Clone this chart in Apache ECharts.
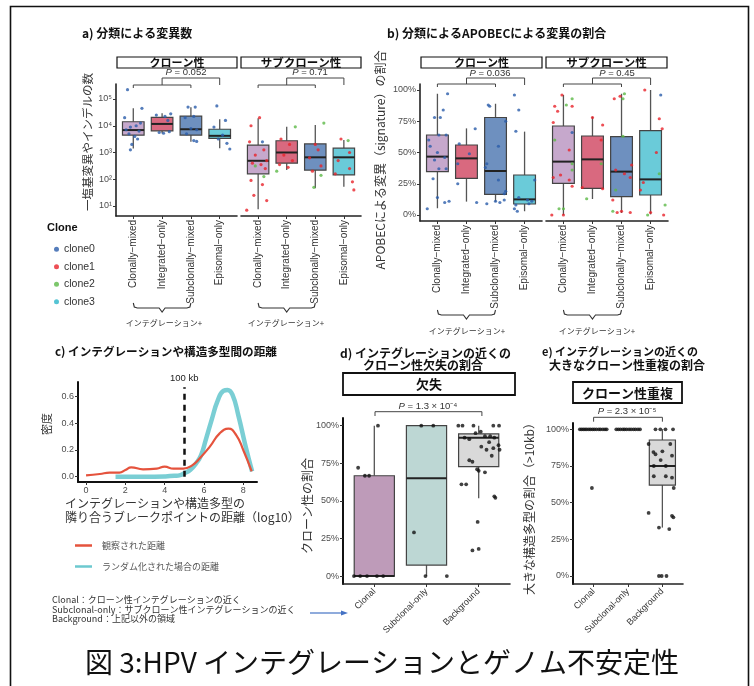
<!DOCTYPE html>
<html>
<head>
<meta charset="utf-8">
<script src="https://cdn.jsdelivr.net/npm/echarts@6/dist/echarts.min.js"></script>
<style>
html, body { margin: 0; padding: 0; background: #fff; }
#main { width: 754px; height: 686px; }
</style>
</head>
<body>
<div id="main"></div>
<script>
// ---- data ----
const catsAB = ['Clonally\u2212mixed', 'Integrated\u2212only', 'Subclonally\u2212mixed', 'Episomal\u2212only'];
const catsDE = ['Clonal', 'Subclonal-only', 'Background'];
const clones = ['clone0', 'clone1', 'clone2', 'clone3'];
const cloneColors = ['#2A5CAA', '#E8232A', '#5CB947', '#2BB5C9'];
const boxColorsAB = ['#C6A8CC', '#D9697F', '#6E90BF', '#6ACBD9'];
const boxColorsDE = ['#BE9BB9', '#BDD7D4', '#D9D9D9'];

// box stats: [min, Q1, median, Q3, max]
const aClonalBox = [[1400, 4470, 6900, 14100, 44700], [5250, 6460, 11700, 20400, 29500], [2500, 4470, 7400, 22900, 49000], [1450, 3400, 4200, 7400, 17400]];
const aSubBox = [[7.6, 160, 490, 1900, 19000], [220, 400, 1000, 2750, 9100], [46, 220, 660, 2100, 10700], [52, 145, 660, 1450, 2950]];
const bClonalBox = [[0.054, 0.347, 0.467, 0.64, 0.97], [0.107, 0.293, 0.453, 0.56, 0.693], [0.107, 0.165, 0.352, 0.78, 0.89], [0.03, 0.088, 0.125, 0.32, 0.667]];
const bSubBox = [[0, 0.253, 0.427, 0.712, 0.96], [0.128, 0.213, 0.445, 0.632, 0.786], [0.016, 0.147, 0.347, 0.627, 0.97], [0.005, 0.16, 0.285, 0.675, 1.0]];
const dBox = [[0, 0, 0, 0.667, 1.0], [0, 0.073, 0.65, 1.0, 1.0], [0.517, 0.727, 0.92, 0.945, 1.0]];
const eBox = [null, null, [0.33, 0.62, 0.75, 0.927, 1.0]];

// jitter points: [category, offset, value, clone]
const aClonalPts = [
  [0, -0.2, 224000, 0], [0, 0.3, 44700, 0], [0, -0.3, 20000, 0], [0, 0.1, 10000, 0], [0, -0.1, 8900, 0], [0, 0.2, 6300, 0], [0, -0.15, 5000, 0],
  [0, 0.05, 4000, 0], [0, 0.15, 3200, 0], [0, -0.05, 2000, 0], [0, -0.1, 1260, 0], [0, 0.25, 12600, 0], [0, -0.25, 7100, 0],
  [1, 0.3, 28000, 0], [1, -0.2, 25000, 0], [1, 0.1, 22400, 0], [1, 0.2, 15800, 0], [1, -0.1, 5600, 0], [1, 0.05, 5250, 0], [1, 0.25, 6000, 0],
  [2, -0.1, 50000, 0], [2, 0.15, 50000, 0], [2, -0.2, 20000, 0], [2, 0.1, 22400, 0], [2, 0, 7900, 0], [2, 0.2, 7100, 0], [2, -0.15, 5000, 0], [2, 0.1, 2800, 0], [2, 0.2, 2600, 0],
  [3, -0.1, 55000, 0], [3, 0.2, 15800, 0], [3, -0.2, 8900, 0], [3, 0.1, 4500, 0], [3, -0.05, 3200, 0], [3, 0.25, 2200, 0], [3, 0.35, 1350, 0]
];
const aSubPts = [
  [0, 0.05, 20000, 1], [0, -0.25, 10000, 1], [0, -0.3, 2500, 1], [0, 0.2, 1260, 1], [0, -0.1, 800, 1], [0, 0.3, 500, 1], [0, -0.2, 400, 1], [0, 0.1, 355, 1],
  [0, 0.25, 250, 1], [0, -0.25, 90, 1], [0, 0.15, 63, 1], [0, -0.15, 25, 1], [0, 0.3, 16, 1], [0, -0.4, 7, 1], [0, -0.1, 316, 2], [0, 0.2, 126, 2], [0, 0.15, 2500, 0],
  [1, 0.3, 9100, 2], [1, -0.2, 3200, 1], [1, 0.1, 2000, 1], [1, -0.1, 800, 1], [1, 0.2, 500, 1], [1, -0.25, 355, 1], [1, 0.05, 280, 1], [1, -0.35, 200, 2],
  [2, 0.3, 12600, 2], [2, 0, 2000, 1], [2, 0.1, 1260, 1], [2, -0.2, 630, 1], [2, 0.2, 316, 1], [2, -0.1, 200, 1], [2, -0.05, 50, 2], [2, 0.2, 140, 2],
  [3, -0.1, 3200, 1], [3, 0.15, 2800, 2], [3, 0.2, 1000, 1], [3, -0.2, 500, 1], [3, 0.2, 250, 1], [3, -0.3, 160, 1], [3, 0.3, 80, 1], [3, 0.35, 40, 1]
];
const bClonalPts = [
  [0, 0.35, 0.97, 0], [0, -0.1, 0.78, 0], [0, 0.1, 0.78, 0], [0, 0.2, 0.84, 0], [0, -0.3, 0.6, 0], [0, 0.05, 0.64, 0], [0, 0.3, 0.64, 0], [0, -0.25, 0.55, 0],
  [0, 0, 0.5, 0], [0, 0.25, 0.46, 0], [0, -0.1, 0.44, 0], [0, 0.05, 0.37, 0], [0, 0.3, 0.37, 0], [0, -0.15, 0.29, 0], [0, 0, 0.14, 0], [0, 0.25, 0.1, 0], [0, 0.4, 0.11, 0], [0, -0.35, 0.05, 0],
  [1, 0.3, 0.69, 0], [1, -0.25, 0.57, 0], [1, 0.1, 0.49, 0], [1, -0.3, 0.41, 0], [1, -0.3, 0.25, 0], [1, 0.35, 0.1, 0],
  [2, -0.25, 0.88, 0], [2, -0.2, 0.87, 0], [2, 0.35, 0.75, 0], [2, 0.1, 0.55, 0], [2, -0.3, 0.41, 0], [2, -0.35, 0.38, 0], [2, 0.1, 0.28, 0], [2, 0.35, 0.19, 0],
  [2, 0.3, 0.17, 0], [2, 0.15, 0.1, 0], [2, -0.3, 0.09, 0], [2, 0.3, 0.12, 0], [2, 0, 0.11, 0],
  [3, -0.35, 0.96, 0], [3, -0.2, 0.84, 0], [3, -0.3, 0.67, 0], [3, 0.35, 0.28, 0], [3, -0.2, 0.14, 0], [3, 0.1, 0.12, 0], [3, 0.25, 0.11, 0], [3, -0.3, 0.08, 0],
  [3, -0.35, 0.05, 0], [3, -0.25, 0.03, 0], [3, 0.15, 0.09, 0]
];
const bSubPts = [
  [0, -0.05, 0.96, 1], [0, -0.3, 0.87, 1], [0, 0.3, 0.87, 1], [0, -0.2, 0.83, 1], [0, -0.35, 0.74, 1], [0, 0.2, 0.52, 1], [0, -0.35, 0.3, 1], [0, -0.1, 0.32, 1],
  [0, 0.2, 0.28, 1], [0, 0.3, 0.23, 1], [0, -0.4, 0, 1], [0, 0, 0, 1], [0, 0.3, 0.93, 2], [0, 0.1, 0.88, 2], [0, -0.3, 0.6, 2], [0, 0.3, 0.41, 2],
  [0, 0.3, 0.36, 2], [0, -0.15, 0.05, 2], [0, 0, 0.05, 2], [0, 0.3, 0.66, 0],
  [1, 0, 0.78, 1], [1, 0.35, 0.72, 1], [1, 0.3, 0.6, 1], [1, -0.35, 0.22, 1], [1, 0.35, 0.21, 1], [1, 0.3, 0.41, 2], [1, -0.2, 0.13, 2],
  [2, -0.25, 0.93, 1], [2, -0.05, 0.95, 1], [2, 0.35, 0.4, 1], [2, -0.2, 0.36, 1], [2, 0.1, 0.33, 1], [2, 0.3, 0.3, 1], [2, -0.3, 0.12, 1], [2, 0, 0.03, 1],
  [2, 0.3, 0.02, 1], [2, -0.15, 0.02, 1], [2, 0.1, 0.97, 2], [2, 0.05, 0.93, 2], [2, 0.05, 0.63, 2], [2, -0.2, 0.2, 2], [2, -0.3, 0.03, 2],
  [3, -0.2, 1.0, 1], [3, 0.3, 0.77, 1], [3, 0.4, 0.69, 1], [3, 0.2, 0.5, 1], [3, -0.25, 0.26, 1], [3, -0.35, 0.2, 1], [3, 0, 0.02, 1], [3, 0.45, 0, 1],
  [3, 0.35, 0.96, 0], [3, 0.3, 0.33, 2], [3, -0.1, 0, 2], [3, 0.5, 0.08, 2]
];

// d / e jitter points: [category, offset, value]
const dPts = [
  [0, 0.07, 1.0], [0, -0.31, 0.72], [0, -0.18, 0.667], [0, -0.1, 0.667], [0, -0.39, 0], [0, -0.27, 0], [0, -0.14, 0], [0, 0.17, 0], [0, 0.05, 0],
  [1, -0.1, 1.0], [1, 0.13, 1.0], [1, -0.24, 0.29], [1, -0.02, 0], [1, 0.39, 0],
  [2, -0.39, 1], [2, -0.31, 1], [2, -0.1, 1], [2, 0.28, 1], [2, 0.39, 1], [2, -0.06, 0.95], [2, 0.04, 0.96], [2, 0.12, 0.93], [2, 0.22, 0.93], [2, 0.3, 0.92],
  [2, -0.27, 0.92], [2, -0.18, 0.91], [2, 0.2, 0.89], [2, 0.38, 0.87], [2, 0.28, 0.85], [2, 0.15, 0.84], [2, 0.05, 0.86], [2, 0.4, 0.84], [2, -0.18, 0.77],
  [2, -0.12, 0.76], [2, 0.25, 0.8], [2, 0.0, 0.7], [2, -0.03, 0.71], [2, 0.12, 0.69], [2, -0.33, 0.61], [2, -0.24, 0.61], [2, 0.3, 0.53], [2, 0.32, 0.52],
  [2, -0.02, 0.36], [2, -0.12, 0.17], [2, 0.0, 0.18]
];
const ePts = [
  [0, -0.4, 1], [0, -0.35, 1], [0, -0.3, 1], [0, -0.25, 1], [0, -0.2, 1], [0, -0.14, 1], [0, -0.09, 1], [0, -0.03, 1], [0, 0.02, 1], [0, 0.08, 1],
  [0, 0.15, 1], [0, 0.2, 1], [0, 0.27, 1], [0, 0.33, 1], [0, 0.38, 1], [0, -0.05, 0.6],
  [1, -0.34, 1], [1, -0.28, 1], [1, -0.22, 1], [1, -0.15, 1], [1, -0.1, 1], [1, -0.04, 1], [1, 0.03, 1], [1, 0.09, 1], [1, 0.16, 1], [1, 0.22, 1], [1, 0.29, 1], [1, 0.35, 1],
  [2, -0.2, 1], [2, -0.06, 1], [2, 0.09, 1], [2, 0.31, 1], [2, -0.4, 0.9], [2, 0.23, 0.9], [2, -0.26, 0.845], [2, 0, 0.85], [2, -0.2, 0.83], [2, 0.28, 0.82],
  [2, -0.05, 0.79], [2, -0.25, 0.75], [2, 0.1, 0.75], [2, -0.25, 0.68], [2, 0.1, 0.68], [2, 0.28, 0.67], [2, 0.33, 0.6], [2, -0.4, 0.43], [2, 0.28, 0.41],
  [2, 0.32, 0.4], [2, -0.1, 0.33], [2, 0.2, 0.32], [2, -0.1, 0], [2, -0.02, 0], [2, 0.12, 0]
];

// c) density curves (x = log10 distance)
const obsX = [0, 0.7, 1.2, 1.7, 2.0, 2.3, 2.9, 3.6, 4.0, 4.45, 4.95, 5.4, 5.8, 6.3, 6.8, 7.25, 7.65, 8.0, 8.43];
const obsY = [0.01, 0.02, 0.03, 0.03, 0.05, 0.07, 0.055, 0.06, 0.075, 0.06, 0.06, 0.085, 0.14, 0.225, 0.325, 0.36, 0.31, 0.2, 0.04];
const rndX = [1.5, 3.0, 4.0, 4.5, 4.8, 5.0, 5.3, 5.6, 5.85, 6.1, 6.4, 6.7, 7.0, 7.2, 7.45, 7.75, 8.1, 8.45];
const rndY = [0.0, 0.0, 0.002, 0.006, 0.012, 0.025, 0.05, 0.1, 0.16, 0.28, 0.43, 0.57, 0.645, 0.65, 0.615, 0.46, 0.24, 0.04];

const aTicks = [10, 100, 1000, 10000, 100000];
const pctTicks = [0, 0.25, 0.5, 0.75, 1];
const cXTicks = [0, 2, 4, 6, 8];
const cYTicks = [0, 0.2, 0.4, 0.6];

// ---- helpers ----
const sup = { 1: '\u00b9', 2: '\u00b2', 3: '\u00b3', 4: '\u2074', 5: '\u2075' };
const LAT = '"Liberation Sans", "Noto Sans CJK JP", sans-serif';
const JP = '"Noto Sans CJK JP", sans-serif';

function catAxis(grid, cats, rotate, fontSize, margin) {
  const idx = cats.map((c, i) => i);
  return {
    gridIndex: grid, type: 'value', min: -0.6, max: cats.length - 0.4,
    axisLine: { show: true, onZero: false, lineStyle: { color: '#222', width: 1.6 } },
    axisTick: { show: true, customValues: idx, length: 3, lineStyle: { color: '#333' } },
    axisLabel: { customValues: idx, formatter: v => cats[Math.round(v)], rotate: rotate, fontSize: fontSize, color: '#333', margin: margin, fontFamily: LAT },
    splitLine: { show: false }
  };
}
function valAxis(grid, min, max, ticks, fmt, show) {
  return {
    gridIndex: grid, type: 'value', min: min, max: max, show: show,
    axisLine: { show: true, onZero: false, lineStyle: { color: '#222', width: 1.6 } },
    axisTick: { show: true, customValues: ticks, length: 3, lineStyle: { color: '#333' } },
    axisLabel: { customValues: ticks, formatter: fmt, fontSize: 9, color: '#4d4d4d', margin: 4, fontFamily: LAT },
    splitLine: { show: false }
  };
}
const pct = v => Math.round(v * 100) + '%';

function boxSeries(grid, stats, colors, bw) {
  const data = [];
  stats.forEach((s, i) => { if (s) data.push([i].concat(s)); });
  return {
    type: 'custom', name: 'box' + grid, xAxisIndex: grid, yAxisIndex: grid, z: 2, silent: true,
    encode: { x: 0, y: [1, 2, 3, 4, 5] },
    data: data,
    renderItem: function (params, api) {
      const x = api.value(0);
      const pMin = api.coord([x, api.value(1)]);
      const pQ1 = api.coord([x, api.value(2)]);
      const pMed = api.coord([x, api.value(3)]);
      const pQ3 = api.coord([x, api.value(4)]);
      const pMax = api.coord([x, api.value(5)]);
      const w = api.size([bw, 0])[0];
      const cx = pMed[0];
      return {
        type: 'group', children: [
          { type: 'line', shape: { x1: cx, y1: pQ3[1], x2: cx, y2: pMax[1] }, style: { stroke: '#555', lineWidth: 1.3 } },
          { type: 'line', shape: { x1: cx, y1: pQ1[1], x2: cx, y2: pMin[1] }, style: { stroke: '#555', lineWidth: 1.3 } },
          { type: 'rect', shape: { x: cx - w / 2, y: pQ3[1], width: w, height: pQ1[1] - pQ3[1] }, style: { fill: colors[x], stroke: '#444', lineWidth: 1.2 } },
          { type: 'line', shape: { x1: cx - w / 2, y1: pMed[1], x2: cx + w / 2, y2: pMed[1] }, style: { stroke: '#222', lineWidth: 2 } }
        ]
      };
    }
  };
}
function cloneSeries(grid, pts) {
  return clones.map((c, k) => ({
    type: 'scatter', name: c, xAxisIndex: grid, yAxisIndex: grid, z: 3, silent: true,
    symbolSize: 3.2, itemStyle: { color: cloneColors[k] },
    data: pts.filter(p => p[3] === k).map(p => [p[0] + p[1], p[2]])
  }));
}
function blackSeries(grid, pts) {
  return {
    type: 'scatter', name: 'pts' + grid, xAxisIndex: grid, yAxisIndex: grid, z: 3, silent: true,
    symbolSize: 3.8, itemStyle: { color: '#111' },
    data: pts.map(p => [p[0] + p[1], p[2]])
  };
}

// graphic helpers
function txt(x, y, text, font, o) {
  o = o || {};
  const st = { text: text, font: font, fill: o.fill || '#111', align: o.align || 'left', textAlign: o.align || 'left', verticalAlign: 'middle', textVerticalAlign: 'middle' };
  if (o.rich) st.rich = o.rich;
  return { type: 'text', x: x, y: y, rotation: o.rot || 0, z: 100, silent: true, style: st };
}
function poly(points, stroke, lw) {
  return { type: 'polyline', shape: { points: points }, style: { stroke: stroke || '#444', lineWidth: lw || 1, fill: null }, z: 100, silent: true };
}
function strip(x, y, w, h, lw, label, fs) {
  return [
    { type: 'rect', shape: { x: x, y: y, width: w, height: h }, style: { fill: '#fff', stroke: '#111', lineWidth: lw }, z: 99, silent: true },
    txt(x + w / 2, y + h / 2 + 0.5, label, 'bold ' + fs + 'px ' + JP, { align: 'center' })
  ];
}
function pLabel(x, y, rest) {
  return txt(x, y, '{i|P}' + rest, '9.5px ' + LAT, { align: 'center', fill: '#333', rich: { i: { fontStyle: 'italic', fontSize: 9.5, fontFamily: LAT, fill: '#333' } } });
}
function brace(x0, x1, y) {
  const xc = (x0 + x1) / 2;
  return poly([[x0, y - 5], [x0 + 1, y - 1], [x0 + 4, y], [xc - 3, y], [xc, y + 4], [xc + 3, y], [x1 - 4, y], [x1 - 1, y - 1], [x1, y - 5]], '#333', 1.1);
}

const graphics = [].concat(
  [{ type: 'rect', shape: { x: 10.5, y: 6.5, width: 738, height: 720 }, style: { fill: null, stroke: '#111', lineWidth: 1.6 }, z: 0, silent: true }],
  // titles
  [txt(82, 33, 'a) 分類による変異数', 'bold 12px ' + JP),
   txt(387, 33, 'b) 分類によるAPOBECによる変異の割合', 'bold 12px ' + JP),
   txt(55, 352, 'c) インテグレーションや構造多型間の距離', 'bold 11.6px ' + JP),
   txt(340, 353, 'd) インテグレーションの近くの', 'bold 12px ' + JP),
   txt(363, 365, 'クローン性欠失の割合', 'bold 12px ' + JP),
   txt(542, 352, 'e) インテグレーションの近くの', 'bold 11px ' + JP),
   txt(549, 365, '大きなクローン性重複の割合', 'bold 12px ' + JP)],
  // strips
  strip(117, 57, 120, 11, 1.2, 'クローン性', 11),
  strip(241, 57, 120, 11, 1.2, 'サブクローン性', 11.5),
  strip(421, 57, 121, 11, 1.2, 'クローン性', 11),
  strip(546, 57, 121, 11, 1.2, 'サブクローン性', 11.5),
  strip(343, 373, 172, 22, 1.8, '欠失', 13),
  strip(573, 382, 109, 21, 1.8, 'クローン性重複', 13),
  // p-values and brackets
  [pLabel(186, 72, ' = 0.052'), pLabel(310, 72, ' = 0.71'), pLabel(490, 73, ' = 0.036'), pLabel(617, 73, ' = 0.45'),
   pLabel(428, 406, ' = 1.3 \u00d7 10\u207b\u2074'), pLabel(627, 411.5, ' = 2.3 \u00d7 10\u207b\u2075'),
   poly([[133.3, 88], [133.3, 85], [190.9, 85], [190.9, 88]]), poly([[162.1, 85], [162.1, 78], [219.7, 78], [219.7, 85]]),
   poly([[258.1, 88], [258.1, 85], [315.3, 85], [315.3, 88]]), poly([[286.7, 85], [286.7, 78], [343.9, 78], [343.9, 85]]),
   poly([[437.4, 87], [437.4, 84], [495.5, 84], [495.5, 87]]), poly([[466.5, 84], [466.5, 78], [524.6, 78], [524.6, 85]]),
   poly([[563.4, 87], [563.4, 84], [621.5, 84], [621.5, 87]]), poly([[592.5, 84], [592.5, 78], [650.6, 78], [650.6, 85]]),
   poly([[375, 416], [375, 411.7], [481.9, 411.7], [481.9, 416]]),
   poly([[593.6, 421.7], [593.6, 417.3], [662.4, 417.3], [662.4, 421.7]])],
  // axis names
  [txt(88, 142, '一塩基変異やインデルの数', '11.5px ' + JP, { align: 'center', fill: '#333', rot: Math.PI / 2 }),
   txt(380, 160, 'APOBECによる変異（signature）の割合', '12px ' + JP, { align: 'center', fill: '#333', rot: Math.PI / 2 }),
   txt(47, 424, '密度', '11px ' + JP, { align: 'center', fill: '#333', rot: Math.PI / 2 }),
   txt(307, 506, 'クローン性の割合', '12px ' + JP, { align: 'center', fill: '#333', rot: Math.PI / 2 }),
   txt(529, 506, '大きな構造多型の割合（>10kb）', '12px ' + JP, { align: 'center', fill: '#333', rot: Math.PI / 2 }),
   txt(65, 503, 'インテグレーションや構造多型の', '12px ' + JP, { fill: '#333' }),
   txt(65, 517, '隣り合うブレークポイントの距離（log10）', '12px ' + JP, { fill: '#333' })],
  // braces under the category labels
  [brace(133.3, 190.9, 308), brace(258.1, 315.3, 308), brace(437.4, 495.5, 315), brace(563.4, 621.5, 315),
   txt(164, 323, 'インテグレーション+', '8px ' + JP, { align: 'center', fill: '#333' }),
   txt(286, 323, 'インテグレーション+', '8px ' + JP, { align: 'center', fill: '#333' }),
   txt(467, 331, 'インテグレーション+', '8px ' + JP, { align: 'center', fill: '#333' }),
   txt(597, 331, 'インテグレーション+', '8px ' + JP, { align: 'center', fill: '#333' })],
  // legend title, notes, arrow, caption
  [txt(47, 228, 'Clone', 'bold 11px ' + LAT),
   txt(52, 600, 'Clonal：クローン性インテグレーションの近く', '9px ' + JP, { fill: '#333' }),
   txt(52, 609.5, 'Subclonal-only：サブクローン性インテグレーションの近く', '9px ' + JP, { fill: '#333' }),
   txt(52, 619, 'Background：上記以外の領域', '9px ' + JP, { fill: '#333' }),
   poly([[310, 613], [342, 613]], '#4472C4', 1.2),
   { type: 'polygon', shape: { points: [[348, 613], [341, 610.5], [341, 615.5]] }, style: { fill: '#4472C4' }, z: 100, silent: true },
   txt(85, 662, '図 3:HPV インテグレーションとゲノム不安定性', '28px ' + JP, { fill: '#111' })]
);

const series = [].concat(
  [boxSeries(0, aClonalBox, boxColorsAB, 0.75), boxSeries(1, aSubBox, boxColorsAB, 0.75),
   boxSeries(2, bClonalBox, boxColorsAB, 0.75), boxSeries(3, bSubBox, boxColorsAB, 0.75),
   boxSeries(5, dBox, boxColorsDE, 0.77), boxSeries(6, eBox, boxColorsDE, 0.76)],
  cloneSeries(0, aClonalPts), cloneSeries(1, aSubPts), cloneSeries(2, bClonalPts), cloneSeries(3, bSubPts),
  [blackSeries(5, dPts), blackSeries(6, ePts),
   {
     type: 'line', name: 'ランダム化された場合の距離', xAxisIndex: 4, yAxisIndex: 4, smooth: true, showSymbol: false, silent: true, z: 3,
     itemStyle: { color: '#6CC9CF' }, lineStyle: { color: '#6CC9CF', width: 4.5, opacity: 0.9 },
     data: rndX.map((x, i) => [x, rndY[i]])
   },
   {
     type: 'line', name: '観察された距離', xAxisIndex: 4, yAxisIndex: 4, smooth: true, showSymbol: false, silent: true, z: 4,
     itemStyle: { color: '#E5533D' }, lineStyle: { color: '#E5533D', width: 2.2 },
     data: obsX.map((x, i) => [x, obsY[i]]),
     markLine: {
       silent: true, symbol: ['none', 'none'], animation: false,
       lineStyle: { type: [6, 5], width: 2.5, color: '#111' },
       label: { show: true, position: 'end', formatter: '100 kb', color: '#222', fontSize: 9.5, fontFamily: LAT, distance: 4 },
       data: [[{ coord: [5, 0] }, { coord: [5, 0.67] }]]
     }
   }]
);

const option = {
  animation: false,
  backgroundColor: '#fff',
  textStyle: { fontFamily: LAT },
  grid: [
    { left: 116, top: 84, width: 121, height: 132, containLabel: false, outerBoundsMode: 'none' },
    { left: 241, top: 84, width: 120, height: 132, containLabel: false, outerBoundsMode: 'none' },
    { left: 420, top: 84, width: 122, height: 137, containLabel: false, outerBoundsMode: 'none' },
    { left: 546, top: 84, width: 122, height: 137, containLabel: false, outerBoundsMode: 'none' },
    { left: 78, top: 382, width: 179, height: 100, containLabel: false, outerBoundsMode: 'none' },
    { left: 343, top: 418, width: 167, height: 166, containLabel: false, outerBoundsMode: 'none' },
    { left: 573, top: 423, width: 110, height: 161, containLabel: false, outerBoundsMode: 'none' }
  ],
  xAxis: [
    catAxis(0, catsAB, 90, 10, 4), catAxis(1, catsAB, 90, 10, 4),
    catAxis(2, catsAB, 90, 10, 4), catAxis(3, catsAB, 90, 10, 4),
    Object.assign(valAxis(4, -0.41, 8.7, cXTicks, v => String(v), true), { axisLine: { show: true, onZero: false, lineStyle: { color: '#111', width: 2 } } }),
    catAxis(5, catsDE, 45, 9, 6), catAxis(6, catsDE, 45, 9, 6)
  ],
  yAxis: [
    {
      gridIndex: 0, type: 'log', logBase: 10, min: 4.227, max: 363900,
      axisLine: { show: true, onZero: false, lineStyle: { color: '#222', width: 1.6 } },
      axisTick: { show: true, customValues: aTicks, length: 3, lineStyle: { color: '#333' } },
      axisLabel: { customValues: aTicks, formatter: v => '10' + sup[Math.round(Math.log10(v))], fontSize: 9, color: '#4d4d4d', margin: 4, fontFamily: LAT },
      splitLine: { show: false }, minorTick: { show: false }
    },
    { gridIndex: 1, type: 'log', logBase: 10, min: 4.227, max: 363900, show: false, splitLine: { show: false } },
    valAxis(2, -0.048, 1.048, pctTicks, pct, true),
    valAxis(3, -0.048, 1.048, pctTicks, pct, false),
    Object.assign(valAxis(4, -0.04, 0.71, cYTicks, v => v.toFixed(1), true), { axisLine: { show: true, onZero: false, lineStyle: { color: '#111', width: 2 } } }),
    Object.assign(valAxis(5, -0.053, 1.051, pctTicks, pct, true), { axisLine: { show: true, onZero: false, lineStyle: { color: '#111', width: 2 } } }),
    Object.assign(valAxis(6, -0.0545, 1.043, pctTicks, pct, true), { axisLine: { show: true, onZero: false, lineStyle: { color: '#111', width: 2 } } })
  ],
  legend: [
    {
      data: clones, orient: 'vertical', left: 49, top: 239, icon: 'circle', itemWidth: 5, itemHeight: 5, itemGap: 7,
      selectedMode: false, textStyle: { fontSize: 10.5, color: '#333', fontFamily: LAT }
    },
    {
      data: ['観察された距離', 'ランダム化された場合の距離'], orient: 'vertical', left: 70, top: 536, icon: 'rect',
      itemWidth: 17, itemHeight: 2.5, itemGap: 12, selectedMode: false,
      textStyle: { fontSize: 9, color: '#555', fontFamily: JP, padding: [0, 0, 0, 5] }
    }
  ],
  graphic: graphics,
  series: series
};

const chart = echarts.init(document.getElementById('main'));
chart.setOption(option);
</script>
</body>
</html>
